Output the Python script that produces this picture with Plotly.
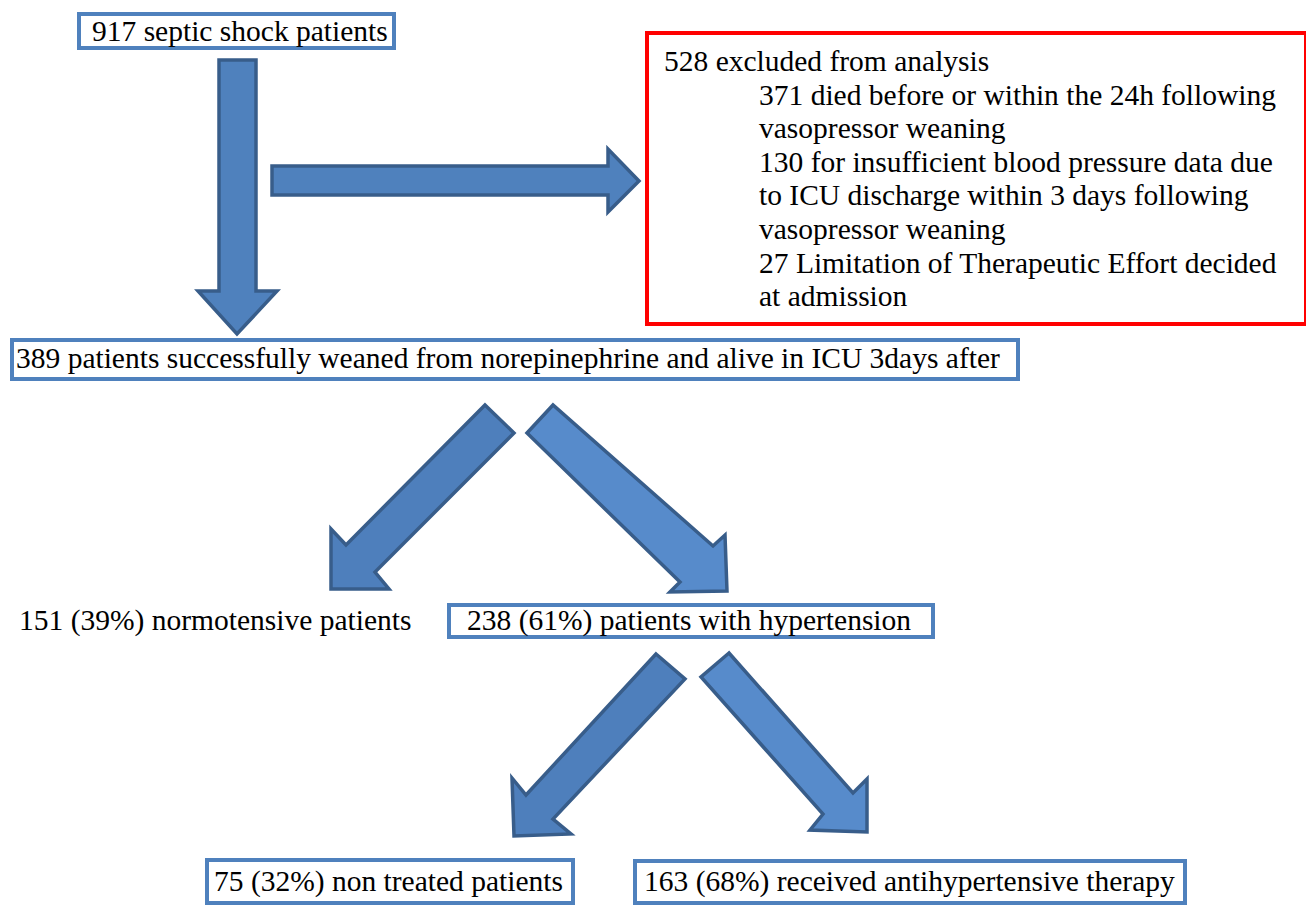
import plotly.graph_objects as go

# ---- data (flow counts) ----
total_patients = 917
excluded_total = 528
excluded_counts = [371, 130, 27]
excluded_reasons = [
    ["died before or within the 24h following", "vasopressor weaning"],
    ["for insufficient blood pressure data due", "to ICU discharge within 3 days following", "vasopressor weaning"],
    ["Limitation of Therapeutic Effort decided", "at admission"],
]
weaned = 389
bp_groups = ["normotensive patients", "patients with hypertension"]
bp_counts = [151, 238]
bp_pct = [39, 61]
tx_groups = ["non treated patients", "received antihypertensive therapy"]
tx_counts = [75, 163]
tx_pct = [32, 68]

W, H = 1314, 905
OFF = 8  # page body margin compensation
FONT_FAMILY = "Liberation Serif"
FONT_SIZE = 29.5
BLUE = "#4F81BD"
ARROW_LINE = "#385D8A"

fig = go.Figure()
shapes = []

def box(x0, y0, x1, y1, color=BLUE, w=4):
    shapes.append(dict(type="rect", xref="x", yref="y", x0=x0, y0=y0, x1=x1, y1=y1,
                       line=dict(color=color, width=w), fillcolor="white", layer="below"))

def text(x, y, s, size=FONT_SIZE):
    fig.add_annotation(x=x - 3, y=y - 1, xref="x", yref="y", text=s, showarrow=False,
                       xanchor="left", yanchor="middle",
                       font=dict(family=FONT_FAMILY, size=size, color="black"))

def poly(pts, fill):
    d = "M " + " L ".join(f"{x},{y}" for x, y in pts) + " Z"
    shapes.append(dict(type="path", xref="x", yref="y", path=d, fillcolor=fill,
                       line=dict(color=ARROW_LINE, width=3.5), layer="above"))

# boxes
box(79, 14, 394, 48)
text(93, 32, f"{total_patients} septic shock patients")

box(647, 33, 1306, 324, color="#FF0000", w=4)
text(665, 62, f"{excluded_total} excluded from analysis")
ys = [96, 129, 163, 196, 230, 264, 297]
i = 0
for c, lines in zip(excluded_counts, excluded_reasons):
    for j, ln in enumerate(lines):
        s = f"{c} {ln}" if j == 0 else ln
        text(760, ys[i], s)
        i += 1

box(12, 340, 1018, 379)
text(17, 359, f"{weaned} patients successfully weaned from norepinephrine and alive in ICU 3days after")

text(20, 621, f"{bp_counts[0]} ({bp_pct[0]}%) {bp_groups[0]}")
box(449, 605, 933, 637)
text(468, 621, f"{bp_counts[1]} ({bp_pct[1]}%) {bp_groups[1]}")

box(207, 860, 573, 903)
text(215, 882, f"{tx_counts[0]} ({tx_pct[0]}%) {tx_groups[0]}")
box(635, 861, 1185, 903)
text(645, 882, f"{tx_counts[1]} ({tx_pct[1]}%) {tx_groups[1]}")

# arrows
poly([(219, 60), (256, 60), (256, 291), (277, 291), (237, 334), (198, 291), (219, 291)], BLUE)
poly([(272, 166), (608, 166), (608, 149), (639, 181), (608, 212), (608, 195), (272, 195)], BLUE)
poly([(485, 405), (514, 433), (375, 572), (389, 589), (331, 589), (331, 529), (346, 545)], "#4E7FBC")
poly([(553, 405), (527, 433), (680, 582), (670, 592), (727, 591), (725, 535), (713, 546)], "#578BCB")
poly([(656, 654), (685, 679), (553, 819), (571, 834), (514, 836), (512, 778), (526, 795)], "#4E7FBC")
poly([(729, 653), (701, 677), (823, 814), (810, 830), (867, 832), (867, 779), (853, 793)], "#578BCB")

fig.update_layout(
    width=W, height=H, margin=dict(l=0, r=0, t=0, b=0),
    paper_bgcolor="white", plot_bgcolor="white",
    xaxis=dict(range=[OFF, W + OFF], visible=False, fixedrange=True),
    yaxis=dict(range=[H + OFF, OFF], visible=False, fixedrange=True),
    shapes=shapes, showlegend=False,
)
fig.write_html("out.html")
